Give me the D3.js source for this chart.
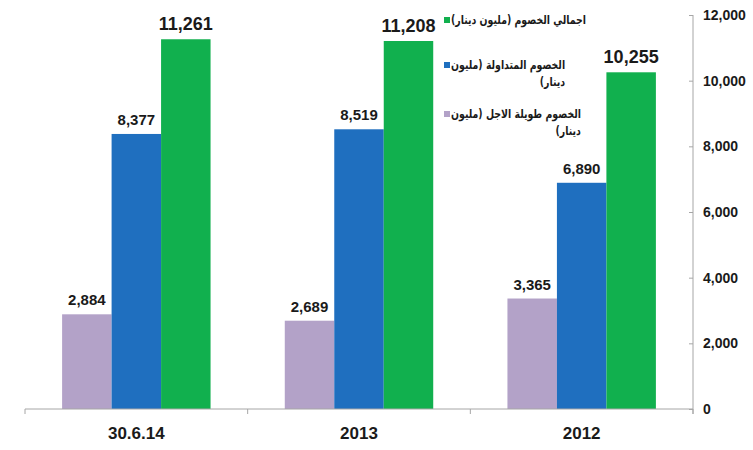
<!DOCTYPE html>
<html>
  <head>
    <meta charset="utf-8">
    <script src="https://d3js.org/d3.v7.min.js"></script>
    <style>
      body { margin: 0; background: #fff; }
      .tick text { font-family: 'Liberation Sans', Arial, sans-serif; font-weight: bold; font-size: 14px; fill: #1a1a1a; }
      .cat-label { font-family: 'Liberation Sans', Arial, sans-serif; font-weight: bold; font-size: 17px; fill: #1a1a1a; }
      .val { font-family: 'Liberation Sans', Arial, sans-serif; font-weight: bold; fill: #1a1a1a; }
      .leg { font-family: 'DejaVu Sans', sans-serif; font-weight: bold; font-size: 12px; fill: #1a1a1a; }
    </style>
  </head>
  <body>
    <svg width="753" height="450"></svg>
    <script>
      const categories = ['30.6.14', '2013', '2012'];
      const longTerm = [2884, 2689, 3365];
      const current = [8377, 8519, 6890];
      const total = [11261, 11208, 10255];
      const yTicks = [0, 2000, 4000, 6000, 8000, 10000, 12000];

      const series = [
        { key: 'long', values: longTerm, color: '#B3A2C8', label: ['الخصوم طويلة الاجل (مليون', 'دينار)'] },
        { key: 'current', values: current, color: '#1F6FBF', label: ['الخصوم المتداولة (مليون', 'دينار)'] },
        { key: 'total', values: total, color: '#11B04E', label: ['اجمالي الخصوم (مليون دينار)'] }
      ];

      const svg = d3.select('svg');
      const plotLeft = 25, plotRight = 693, plotTop = 15, plotBottom = 409;

      const x0 = d3.scaleBand()
        .domain(categories)
        .range([plotLeft, plotRight])
        .paddingInner(1 / 3)
        .paddingOuter(1 / 6);
      const x1 = d3.scaleBand()
        .domain(series.map(s => s.key))
        .range([0, x0.bandwidth()]);
      const y = d3.scaleLinear().domain([0, 12000]).range([plotBottom, plotTop]);

      // bars
      series.forEach(s => {
        svg.append('g').selectAll('rect')
          .data(categories)
          .join('rect')
            .attr('x', c => x0(c) + x1(s.key))
            .attr('y', (c, i) => y(s.values[i]))
            .attr('width', x1.bandwidth())
            .attr('height', (c, i) => y(0) - y(s.values[i]))
            .attr('fill', s.color);

        svg.append('g').selectAll('text')
          .data(categories)
          .join('text')
            .attr('class', 'val')
            .attr('x', c => x0(c) + x1(s.key) + x1.bandwidth() / 2)
            .attr('y', (c, i) => y(s.values[i]) - 9)
            .attr('text-anchor', 'middle')
            .style('font-size', s.key === 'total' ? '18px' : '15px')
            .text((c, i) => d3.format(',')(s.values[i]));
      });

      // x axis with ticks at category boundaries
      const xg = svg.append('g');
      xg.append('line')
        .attr('x1', plotLeft).attr('x2', plotRight)
        .attr('y1', plotBottom).attr('y2', plotBottom)
        .attr('stroke', '#A6A6A6');
      const bounds = categories.map(c => x0(c) - x0.step() * x0.paddingInner() / 2).concat([plotRight]);
      xg.selectAll('.xt').data(bounds).join('line')
        .attr('x1', d => d).attr('x2', d => d)
        .attr('y1', plotBottom).attr('y2', plotBottom + 5)
        .attr('stroke', '#A6A6A6');
      xg.selectAll('.cat-label').data(categories).join('text')
        .attr('class', 'cat-label')
        .attr('x', c => x0(c) + x0.bandwidth() / 2)
        .attr('y', 439)
        .attr('text-anchor', 'middle')
        .text(c => c);

      // y axis on the right
      const yAxis = d3.axisRight(y)
        .tickValues(yTicks)
        .tickSize(0)
        .tickPadding(10)
        .tickFormat(d3.format(','));
      const yg = svg.append('g')
        .attr('transform', `translate(${plotRight},0)`)
        .call(yAxis);
      yg.select('.domain').remove();
      yg.append('line')
        .attr('y1', plotTop).attr('y2', plotBottom + 5)
        .attr('stroke', '#A6A6A6');
      yg.selectAll('.tick').append('line')
        .attr('x1', -4).attr('x2', 0)
        .attr('stroke', '#A6A6A6');

      // legend -- DejaVu Arabic runs wider than the original font,
      // so squeeze every line so the first row is ~135px like the original
      const legendRows = [
        { s: series[2], sq: 17, base: [24] },
        { s: series[1], sq: 62, base: [69, 86] },
        { s: series[0], sq: 111, base: [118, 135] }
      ];
      const leg = svg.append('g');
      const probe = leg.append('text').attr('class', 'leg').attr('direction', 'rtl')
        .text(series[2].label[0]);
      const squeeze = 135 / probe.node().getComputedTextLength();
      probe.remove();

      legendRows.forEach(r => {
        leg.append('rect')
          .attr('x', 444).attr('y', r.sq)
          .attr('width', 6).attr('height', 6)
          .attr('fill', r.s.color);
        let rightEdge = null;
        r.s.label.forEach((line, i) => {
          const t = leg.append('text')
            .attr('class', 'leg')
            .attr('direction', 'rtl')
            .attr('x', 0)
            .attr('y', r.base[i])
            .text(line);
          const w = t.node().getComputedTextLength() * squeeze;
          t.attr('textLength', w).attr('lengthAdjust', 'spacingAndGlyphs');
          const bb = t.node().getBBox();
          if (i === 0) {
            t.attr('x', 451 - bb.x);
            rightEdge = 451 + w;
          } else {
            t.attr('x', rightEdge - (bb.x + w));
          }
        });
      });
    </script>
  </body>
</html>
